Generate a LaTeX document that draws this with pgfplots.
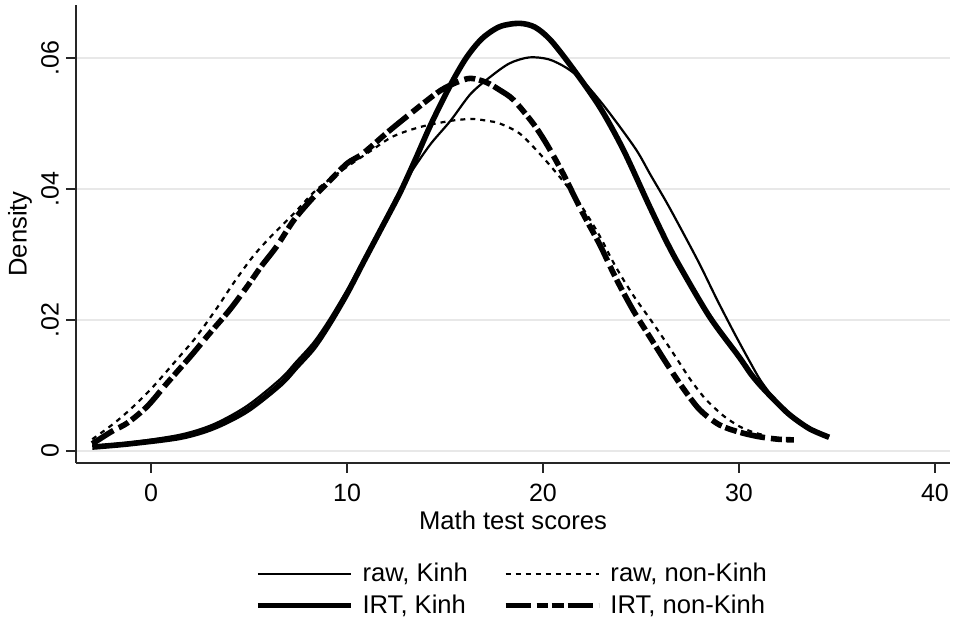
\documentclass[border=0pt]{standalone}
\usepackage{fontspec}
\setmainfont{Liberation Sans}
\usepackage{pgfplots}
\pgfplotsset{compat=1.18}

\begin{document}
\begin{tikzpicture}
\useasboundingbox (-38pt,-78.5pt) rectangle (439pt,231.5pt);
\begin{axis}[
    scale only axis,
    width=437pt, height=229pt,
    xmin=-3.83, xmax=40.77,
    ymin=-0.00183, ymax=0.0681,
    axis x line*=bottom, axis y line*=left,
    axis line style={line width=1pt, black!85},
    tick align=outside, major tick length=5pt,
    tick style={black!85, line width=0.8pt},
    xtick={0,10,20,30,40},
    ytick={0,0.02,0.04,0.06}, yticklabels={0,.02,.04,.06},
    scaled y ticks=false,
    ymajorgrids,
    grid style={black!9, line width=0.8pt},
    /pgf/number format/assume math mode=true,
    ticklabel style={font=\fontsize{12.5}{14}\selectfont},
    xticklabel style={yshift=-2pt},
    yticklabel style={rotate=90, anchor=south},
    label style={font=\fontsize{12.8}{14}\selectfont},
    xlabel={Math test scores},
    ylabel={Density},
    xlabel style={at={(axis description cs:0.5,-0.1245)}, anchor=center},
    ylabel style={at={(axis description cs:-0.064,0.5)}, anchor=center},
    legend columns=2,
    legend style={at={(0.5,-0.277)}, anchor=center, draw=none,
        font=\fontsize{12.8}{14}\selectfont, row sep=1pt,
        /tikz/every odd column/.append style={column sep=2.5pt},
        /tikz/every even column/.append style={column sep=15.5pt}},
    legend cell align=left,
    legend image code/.code={\draw[#1] (0pt,0pt) -- (46.5pt,0pt);},
]
% raw, Kinh
\addplot[black, line width=1.1pt, smooth] coordinates {
(-3.0,0.0008) (-1.1,0.0013) (1.5,0.0025) (3.2,0.0041) (4.9,0.0069)
(6.6,0.0110) (7.4,0.0136) (8.3,0.0166) (9.1,0.0201) (10.0,0.0246)
(10.8,0.0290) (11.7,0.0340) (12.7,0.0398) (13.5,0.0436) (14.3,0.0470)
(15.3,0.0505) (16.3,0.0545) (17.3,0.0571) (18.3,0.0592) (19.3,0.0601)
(20.3,0.0598) (21.2,0.0585) (22.0,0.0566) (22.9,0.0535) (23.8,0.0500)
(24.8,0.0458) (25.5,0.0421) (26.3,0.0380) (27.1,0.0336) (28.0,0.0285)
(28.9,0.0230) (29.8,0.0178) (30.6,0.0134) (31.1,0.0108) (31.8,0.0080)
(32.6,0.0056) (33.6,0.0034) (34.6,0.0021)
};
\addlegendentry{raw, Kinh}
% raw, non-Kinh
\addplot[black, line width=1.1pt, dash pattern=on 2.5pt off 2.5pt, smooth] coordinates {
(-3.0,0.0018) (-1.9,0.0042) (-0.9,0.0068) (0.1,0.0098) (1.3,0.0139)
(2.3,0.0174) (3.4,0.0220) (4.2,0.0256) (5.2,0.0297) (6.1,0.0327)
(7.3,0.0363) (8.3,0.0395) (9.3,0.0419) (10.3,0.0440) (11.2,0.0458)
(12.2,0.0478) (13.0,0.0488) (13.9,0.0496) (14.7,0.0501) (15.5,0.0505)
(16.4,0.0507) (17.2,0.0504) (17.8,0.0500) (18.8,0.0485) (19.8,0.0455)
(20.7,0.0424) (21.5,0.0394) (22.2,0.0363) (22.9,0.0328) (23.7,0.0282)
(24.6,0.0238) (25.5,0.0200) (26.3,0.0165) (27.0,0.0133) (27.5,0.0110)
(28.0,0.0090) (28.4,0.0076) (29.2,0.0054) (30.0,0.0038) (30.7,0.0029)
(31.3,0.0024)
};
\addlegendentry{raw, non-Kinh}
% IRT, Kinh
\addplot[black, line width=2.8pt, smooth] coordinates {
(-3.0,0.0006) (-1.1,0.0011) (1.5,0.0021) (3.2,0.0036) (4.9,0.0062)
(6.6,0.0102) (7.4,0.0128) (8.3,0.0158) (9.1,0.0194) (10.0,0.0240)
(10.8,0.0286) (11.7,0.0337) (12.7,0.0394) (13.5,0.0446) (14.3,0.0500)
(15.3,0.0560) (16.1,0.0601) (16.9,0.0630) (17.8,0.0648) (18.8,0.0653)
(19.6,0.0647) (20.4,0.0627) (21.5,0.0585) (22.9,0.0525) (24.1,0.0460)
(25.4,0.0376) (26.3,0.0320) (27.0,0.0281) (28.5,0.0205) (30.0,0.0144)
(30.6,0.0118) (31.1,0.0100) (31.8,0.0078) (32.6,0.0055) (33.6,0.0034)
(34.6,0.0021)
};
\addlegendentry{IRT, Kinh}
% IRT, non-Kinh
\addplot[black, line width=2.8pt, smooth,
    dash pattern=on 12.5pt off 3pt on 5.5pt off 2pt on 6pt off 2pt] coordinates {
(-3.0,0.0011) (-2.0,0.0030) (-1.2,0.0043) (-0.2,0.0068) (0.8,0.0103)
(2.0,0.0144) (3.0,0.0180) (4.0,0.0215) (4.9,0.0251) (5.6,0.0281)
(6.4,0.0312) (7.3,0.0353) (8.3,0.0388) (9.0,0.0409) (10.0,0.0439)
(10.8,0.0454) (12.2,0.0490) (13.9,0.0531) (14.8,0.0551) (15.6,0.0563)
(16.3,0.0569) (17.1,0.0563) (17.8,0.0551) (18.5,0.0536) (19.5,0.0500)
(20.2,0.0468) (21.0,0.0425) (22.0,0.0365) (22.9,0.0315) (23.7,0.0265)
(24.6,0.0215) (25.5,0.0172) (26.3,0.0134) (27.1,0.0098) (28.0,0.0063)
(29.0,0.0040) (30.0,0.0029) (31.0,0.0022) (32.0,0.0018) (32.8,0.0017)
};
\addlegendentry{IRT, non-Kinh}
\end{axis}
\end{tikzpicture}
\end{document}
